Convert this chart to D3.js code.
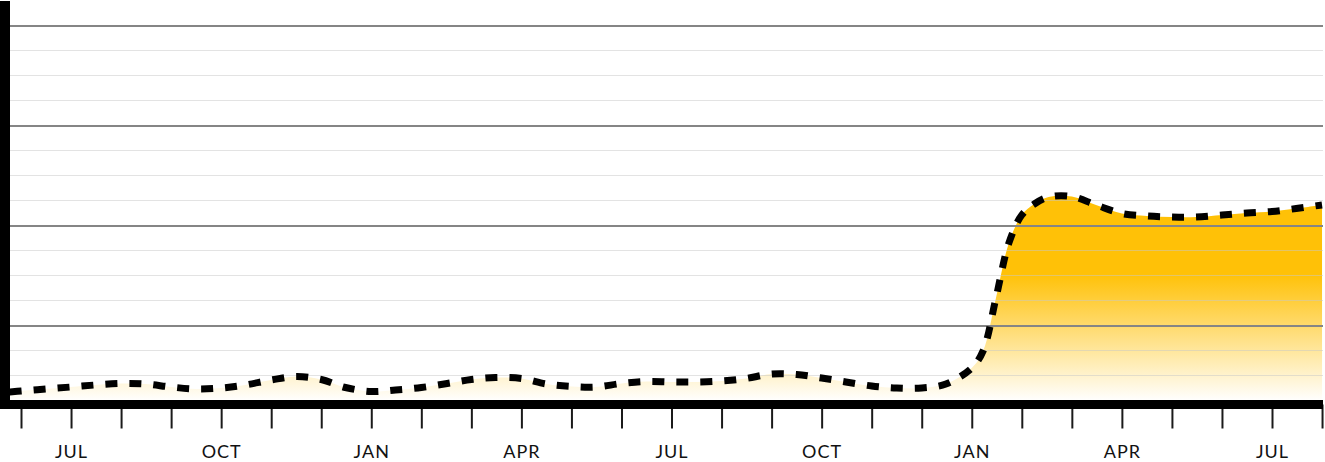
<!DOCTYPE html>
<html>
<head>
<meta charset="utf-8">
<script src="https://cdn.jsdelivr.net/npm/d3@7"></script>
<style>
  html, body { margin: 0; padding: 0; background: #fff; }
  svg { display: block; }
</style>
</head>
<body>
<svg id="chart" width="1325" height="462"></svg>
<script>
// ---- data ----
const dates = [
  "2019-05-25","2019-06-01","2019-06-16","2019-07-01","2019-07-16","2019-08-01","2019-08-16",
  "2019-09-01","2019-09-16","2019-10-01","2019-10-16","2019-11-01","2019-11-16","2019-12-01",
  "2019-12-16","2020-01-01","2020-01-16","2020-02-01","2020-02-16","2020-03-01","2020-03-16",
  "2020-04-01","2020-04-16","2020-05-01","2020-05-16","2020-06-01","2020-06-16","2020-07-01",
  "2020-07-16","2020-08-01","2020-08-16","2020-09-01","2020-09-16","2020-10-01","2020-10-16",
  "2020-11-01","2020-11-16","2020-12-01","2020-12-16","2021-01-01","2021-01-08","2021-01-16",
  "2021-01-24","2021-02-01","2021-02-08","2021-02-16","2021-03-01","2021-03-16","2021-04-01",
  "2021-04-16","2021-05-01","2021-05-16","2021-06-01","2021-06-16","2021-07-01","2021-07-16",
  "2021-08-01"
];
const values = [
  0.36, 0.40, 0.48, 0.56, 0.64, 0.70, 0.68,
  0.56, 0.48, 0.52, 0.64, 0.84, 0.98, 0.86,
  0.54, 0.38, 0.44, 0.54, 0.70, 0.86, 0.94,
  0.90, 0.68, 0.58, 0.56, 0.70, 0.78, 0.76,
  0.76, 0.80, 0.90, 1.08, 1.06, 0.92, 0.76,
  0.60, 0.52, 0.52, 0.68, 1.32, 2.00, 4.12,
  6.32, 7.44, 7.88, 8.16, 8.18, 7.84, 7.50,
  7.40, 7.36, 7.36, 7.44, 7.52, 7.58, 7.70,
  7.84
];
// monthly ticks: Jun 2019 .. Aug 2021
const tickMonths = [];
for (let i = 0; i <= 26; i++) tickMonths.push(i);
const monthLabels = ["JAN","FEB","MAR","APR","MAY","JUN","JUL","AUG","SEP","OCT","NOV","DEC"];
const shownLabels = ["JAN","APR","JUL","OCT"];
const minorGrid = [1,2,3,4,5,6,7,8,9,10,11,12,13,14,15];
const majorGrid = [3,7,11,15];

// ---- helpers ----
function monthIndex(s) {
  const [y, m, d] = s.split("-").map(Number);
  const dim = new Date(y, m, 0).getDate();
  return (y - 2019) * 12 + (m - 1) - 5 + (d - 1) / dim;
}
const data = dates.map((d, i) => ({ m: monthIndex(d), v: values[i] }));

const svg = d3.select("#chart");
const x = d3.scaleLinear().domain([0, 26]).range([21, 21 + 26 * 50.04]);
const y = d3.scaleLinear().domain([0, 16]).range([401, 1]);

// gradient
const defs = svg.append("defs");
const grad = defs.append("linearGradient")
  .attr("id", "fillGrad").attr("gradientUnits", "userSpaceOnUse")
  .attr("x1", 0).attr("x2", 0).attr("y1", y(8.2)).attr("y2", y(0));
grad.append("stop").attr("offset", "0%").attr("stop-color", "#FFC107");
grad.append("stop").attr("offset", "38%").attr("stop-color", "#FFC107");
grad.append("stop").attr("offset", "100%").attr("stop-color", "#FFFFFF");

const clip = defs.append("clipPath").attr("id", "plotClip");
clip.append("rect").attr("x", 10).attr("y", 0).attr("width", 1313).attr("height", 401);

const curve = d3.curveCatmullRom.alpha(0.5);

// area
svg.append("path")
  .datum(data)
  .attr("clip-path", "url(#plotClip)")
  .attr("fill", "url(#fillGrad)")
  .attr("d", d3.area().curve(curve).x(d => x(d.m)).y0(y(0)).y1(d => y(d.v)));

// gridlines
const grid = svg.append("g");
grid.selectAll("line.minor").data(minorGrid.filter(v => !majorGrid.includes(v)))
  .join("line").attr("class", "minor")
  .attr("x1", 10).attr("x2", 1323)
  .attr("y1", d => Math.round(y(d)) - 0.5).attr("y2", d => Math.round(y(d)) - 0.5)
  .attr("stroke", "rgba(200,200,200,0.5)").attr("stroke-width", 1);
grid.selectAll("line.major").data(majorGrid)
  .join("line").attr("class", "major")
  .attr("x1", 10).attr("x2", 1323)
  .attr("y1", d => Math.round(y(d))).attr("y2", d => Math.round(y(d)))
  .attr("stroke", "#858585").attr("stroke-width", 2);

// dashed line
svg.append("path")
  .datum(data)
  .attr("clip-path", "url(#plotClip)")
  .attr("fill", "none")
  .attr("stroke", "#000")
  .attr("stroke-width", 7)
  .attr("stroke-dasharray", "12,12")
  .attr("d", d3.line().curve(curve).x(d => x(d.m)).y(d => y(d.v)));

// x axis
const xAxis = d3.axisBottom(x)
  .tickValues(tickMonths)
  .tickSize(24)
  .tickSizeOuter(0)
  .tickFormat(i => {
    const name = monthLabels[(i + 5) % 12];
    return shownLabels.includes(name) ? name : "";
  });
const gx = svg.append("g").attr("transform", "translate(0,404.5)").call(xAxis);
gx.select(".domain").remove();
gx.selectAll(".tick line").attr("stroke", "#1a1a1a").attr("stroke-width", 2);
gx.selectAll(".tick text")
  .attr("y", 53.5).attr("dy", "0")
  .attr("fill", "#111")
  .style("font-family", "Lato, 'Open Sans', sans-serif")
  .style("font-weight", 400)
  .style("font-size", "18px")
  .style("letter-spacing", "1px");

// axis bars
svg.append("rect").attr("x", 0).attr("y", 400).attr("width", 1323).attr("height", 9).attr("fill", "#000");
svg.append("rect").attr("x", 0).attr("y", 1).attr("width", 10).attr("height", 408).attr("fill", "#000");
</script>
</body>
</html>
